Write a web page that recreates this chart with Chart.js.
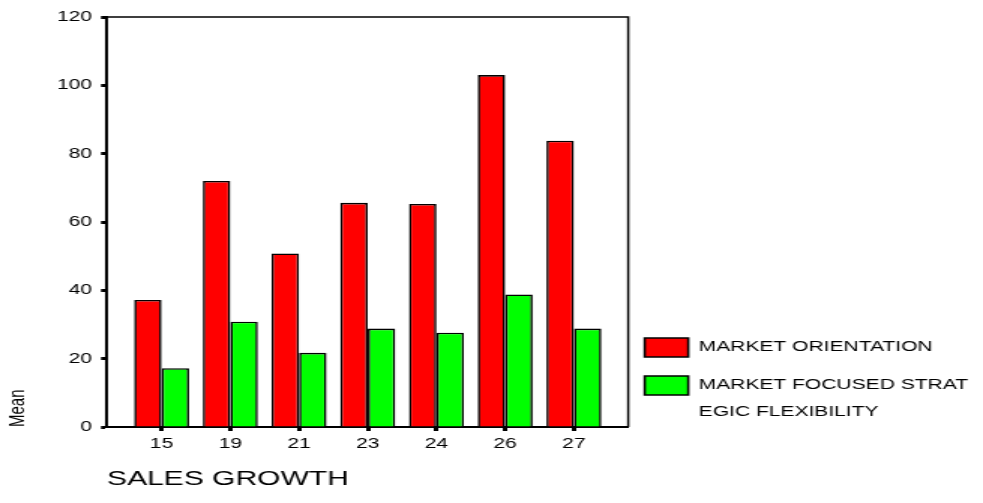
<!DOCTYPE html>
<html>
<head>
<meta charset="utf-8">
<script src="https://cdn.jsdelivr.net/npm/chart.js@4/dist/chart.umd.min.js"></script>
<style>
  body { margin: 0; background: #fff; }
</style>
</head>
<body>
<!-- drawn narrow and stretched sideways, like the original export -->
<canvas id="chart" width="655" height="503" style="display:block;width:983px;height:503px"></canvas>
<script>
const salesGrowth = ['15', '19', '21', '23', '24', '26', '27'];
const marketOrientation = [37.2, 72.0, 50.8, 65.6, 65.3, 103.0, 83.8];
const marketFocused = [17.2, 30.8, 21.7, 28.8, 27.6, 38.8, 28.8];
const legendLines = [['MARKET ORIENTATION'], ['MARKET FOCUSED STRAT', 'EGIC FLEXIBILITY']];
const yMin = 0, yMax = 120, yStep = 20;

const font = 'Liberation Sans, Arial, sans-serif';

const frame = {
  id: 'frame',
  afterLayout(chart) {
    // push the legend down so it sits at the foot of the plot
    chart.legend.top += 14;
    chart.legend.bottom += 14;
  },
  afterDraw(chart) {
    const {ctx, chartArea: a} = chart;
    ctx.save();
    ctx.strokeStyle = '#000';
    ctx.lineWidth = 1.5;
    ctx.beginPath();
    ctx.moveTo(a.left, a.top);
    ctx.lineTo(a.right, a.top);
    ctx.lineTo(a.right, a.bottom);
    ctx.stroke();
    ctx.restore();
  }
};

const toPoints = arr => arr.map((v, i) => ({x: i, y: v}));

new Chart(document.getElementById('chart'), {
  type: 'bar',
  data: {
    datasets: [{
      label: 'MARKET ORIENTATION',
      data: toPoints(marketOrientation),
      backgroundColor: '#ff0000',
      borderColor: '#000',
      borderWidth: 1.6,
      categoryPercentage: 0.8,
      barPercentage: 1.0
    }, {
      label: 'MARKET FOCUSED STRATEGIC FLEXIBILITY',
      data: toPoints(marketFocused),
      backgroundColor: '#00ff00',
      borderColor: '#000',
      borderWidth: 1.6,
      categoryPercentage: 0.8,
      barPercentage: 1.0
    }]
  },
  options: {
    responsive: false,
    devicePixelRatio: 1,
    animation: false,
    layout: { padding: { top: 17, left: 0, right: 0, bottom: 0 } },
    plugins: {
      tooltip: { enabled: false },
      legend: {
        position: 'right',
        align: 'end',
        fullSize: false,
        maxWidth: 237.7,
        labels: {
          boxWidth: 29,
          boxHeight: 19,
          padding: 11,
          color: '#000',
          font: { family: font, size: 14, lineHeight: '27px' },
          generateLabels: chart =>
            Chart.defaults.plugins.legend.labels.generateLabels(chart)
              .map((item, i) => ({...item, text: legendLines[i]}))
        }
      }
    },
    scales: {
      x: {
        type: 'linear',
        min: -0.794,
        max: 6.79,
        offset: false,
        afterBuildTicks: s => { s.ticks = salesGrowth.map((_, i) => ({value: i})); },
        afterFit: s => { s.height = 76; },
        border: { color: '#000', width: 2 },
        grid: { offset: false, drawOnChartArea: false, tickLength: 4, tickWidth: 3, tickColor: '#000' },
        ticks: {
          autoSkip: false,
          maxRotation: 0,
          padding: 5,
          color: '#000',
          font: { family: font, size: 14 },
          callback: v => salesGrowth[v]
        },
        title: {
          display: true,
          text: 'SALES GROWTH',
          align: 'start',
          color: '#000',
          font: { family: font, size: 20 },
          padding: { top: 0, bottom: 12 }
        }
      },
      y: {
        min: yMin,
        max: yMax,
        afterFit: s => { s.width = 71.3; },
        border: { color: '#000', width: 2 },
        grid: { drawOnChartArea: false, tickLength: 4, tickWidth: 3, tickColor: '#000' },
        ticks: {
          stepSize: yStep,
          padding: 6,
          color: '#000',
          font: { family: font, size: 14 }
        },
        title: {
          display: true,
          text: 'Mean',
          align: 'start',
          color: '#000',
          font: { family: font, size: 15 },
          padding: { top: 3, bottom: 0 }
        }
      }
    }
  },
  plugins: [frame]
});
</script>
</body>
</html>
